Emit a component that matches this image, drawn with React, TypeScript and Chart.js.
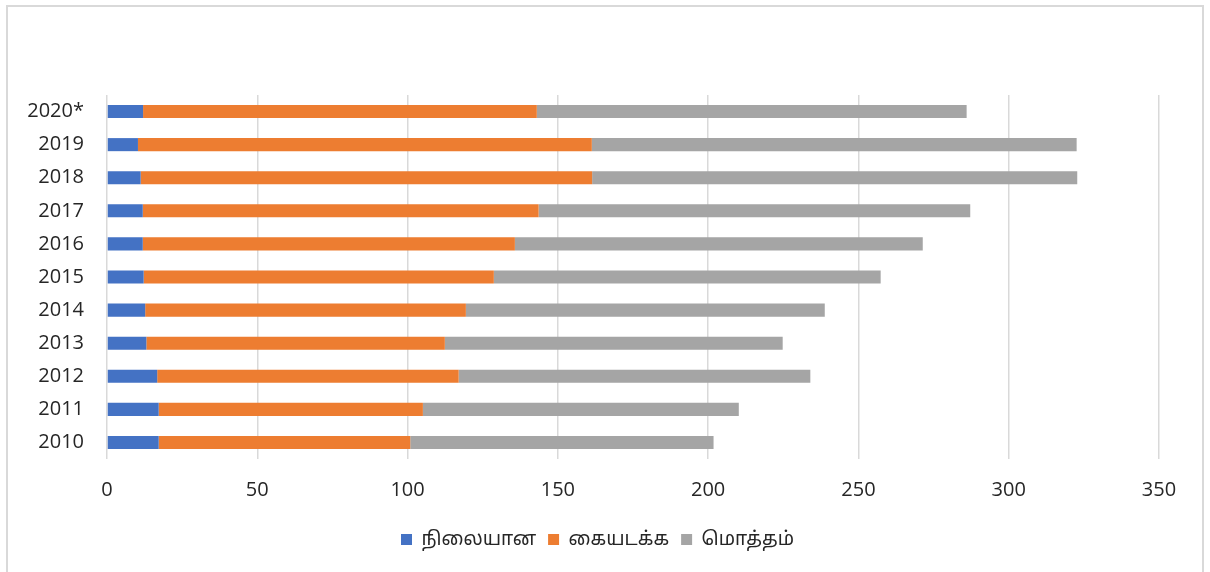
import React, { useEffect, useRef } from "react";
import { Chart, registerables } from "chart.js";

Chart.register(...registerables);

const years = ["2010", "2011", "2012", "2013", "2014", "2015", "2016", "2017", "2018", "2019", "2020*"];
const nilaiyana = [17.2, 17.2, 16.7, 13.1, 12.7, 12.2, 11.9, 11.9, 11.2, 10.3, 12.0];
const kaiyadakka = [83.7, 87.9, 100.3, 99.3, 106.7, 116.5, 123.8, 131.7, 150.2, 151.0, 131.0];
const moththam = [100.9, 105.1, 117.0, 112.4, 119.4, 128.7, 135.7, 143.6, 161.4, 161.3, 143.0];
const xTicks = [0, 50, 100, 150, 200, 250, 300, 350];
const seriesNames = ["நிலையான", "கையடக்க", "மொத்தம்"];

const FONT = "'Open Sans', 'Noto Sans', 'Noto Sans Tamil', sans-serif";

const legendShift = {
  id: "legendShift",
  afterLayout(chart: any) {
    const lg = chart.legend;
    if (lg) {
      lg.left += 36;
    }
  },
};

export default function App() {
  const ref = useRef<HTMLCanvasElement | null>(null);

  useEffect(() => {
    const canvas = ref.current;
    if (!canvas) return;
    const chart = new Chart(canvas, {
      type: "bar",
      data: {
        labels: years,
        datasets: [
          { label: seriesNames[0], data: nilaiyana, backgroundColor: "#4472C4" },
          { label: seriesNames[1], data: kaiyadakka, backgroundColor: "#ED7D31" },
          { label: seriesNames[2], data: moththam, backgroundColor: "#A5A5A5" },
        ],
      },
      plugins: [legendShift],
      options: {
        indexAxis: "y",
        responsive: false,
        animation: false,
        maintainAspectRatio: false,
        datasets: { bar: { categoryPercentage: 0.5, barPercentage: 0.79 } },
        layout: { padding: { left: 0, top: 95, right: 51, bottom: 13 } },
        scales: {
          x: {
            stacked: true,
            min: 0,
            max: 350,
            afterBuildTicks: (scale: any) => {
              scale.ticks = xTicks.map((v) => ({ value: v }));
            },
            afterFit: (scale: any) => {
              scale.height = 59;
            },
            grid: { color: "#d9d9d9", lineWidth: 1.5, drawTicks: false },
            border: { display: false },
            ticks: {
              padding: 19,
              color: "#262626",
              font: { family: FONT, size: 20 },
              maxRotation: 0,
            },
          },
          y: {
            stacked: true,
            reverse: true,
            afterFit: (scale: any) => {
              scale.width = 107;
            },
            grid: { display: false, drawTicks: false },
            border: { display: false },
            ticks: {
              padding: 23,
              color: "#262626",
              font: { family: FONT, size: 20 },
            },
          },
        },
        plugins: {
          legend: {
            position: "bottom",
            labels: {
              boxWidth: 11,
              boxHeight: 11,
              padding: 12,
              color: "#262626",
              font: { family: FONT, size: 19 },
            },
          },
          tooltip: { enabled: false },
        },
      },
    });
    return () => chart.destroy();
  }, []);

  return (
    <div style={{ position: "fixed", left: 0, top: 0, width: 1210, height: 572, background: "#fff", overflow: "hidden" }}>
      <div
        style={{
          position: "absolute",
          left: 6,
          top: 5,
          width: 1198,
          height: 600,
          border: "2px solid #d9d9d9",
          boxSizing: "border-box",
        }}
      />
      <canvas ref={ref} width={1210} height={572} style={{ position: "absolute", left: 0, top: 0 }} />
    </div>
  );
}
